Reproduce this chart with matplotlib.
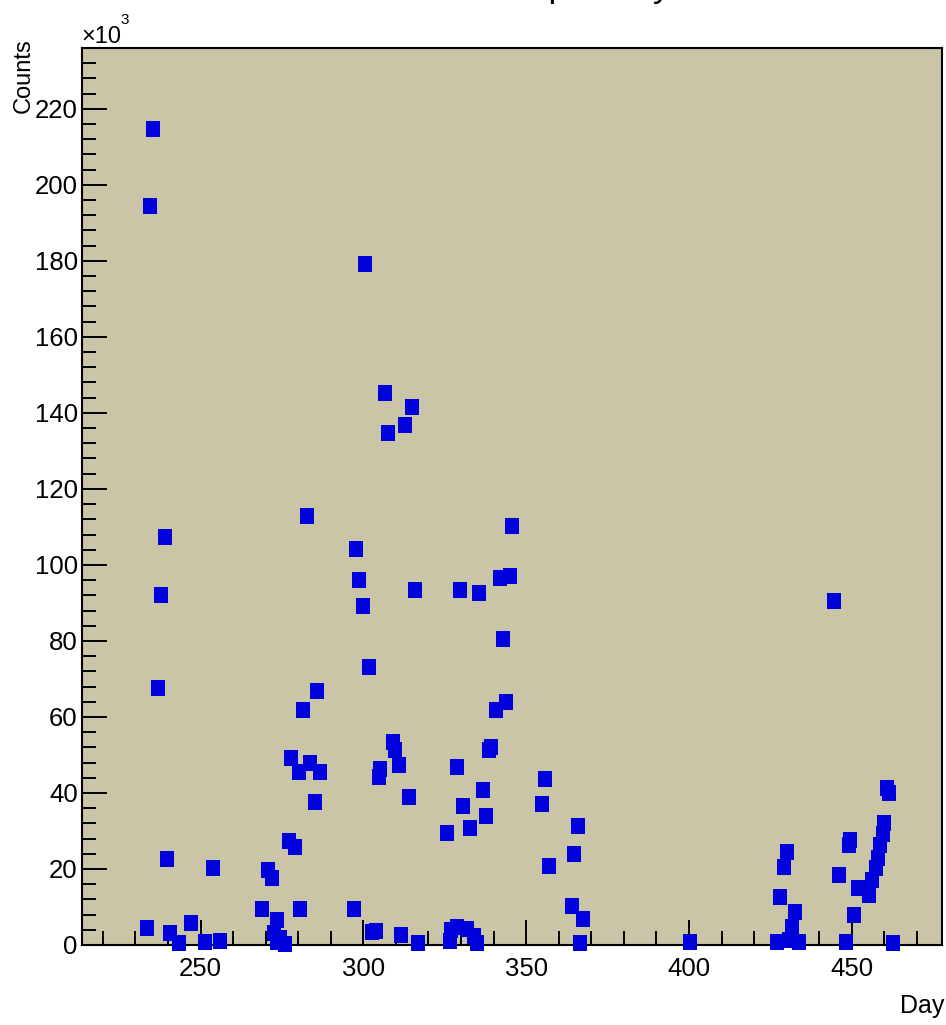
import matplotlib
matplotlib.use("Agg")
import matplotlib.pyplot as plt
from matplotlib.ticker import MultipleLocator
import numpy as np

# day number and counts (in thousands) per day
days = [234.5, 235.4, 233.7, 239.0, 237.8, 237.0, 239.8, 240.7, 243.5, 247.0,
        251.3, 253.8, 256.0, 268.8, 270.8, 271.9, 273.6, 272.6, 274.4, 273.4,
        276.0, 277.3, 279.0, 277.9, 280.2, 283.5, 286.7, 285.1, 281.6, 285.9,
        282.6, 280.6, 297.0, 297.8, 298.8, 299.8, 300.5, 301.7, 302.6, 303.8,
        304.7, 305.2, 306.8, 307.7, 309.2, 309.8, 310.8, 311.5, 312.8, 313.9,
        314.9, 315.9, 316.8, 325.6, 326.5, 326.9, 328.7, 328.7, 329.7, 330.7,
        331.8, 332.8, 333.9, 334.9, 335.6, 336.6, 337.7, 338.6, 339.1, 340.6,
        342.0, 342.9, 343.9, 345.1, 345.8, 354.9, 355.7, 356.9, 364.1, 364.8,
        365.8, 366.6, 367.6, 400.2, 427.1, 427.9, 429.3, 430.0, 430.7, 431.7,
        432.7, 433.8, 444.5, 446.0, 448.1, 449.2, 449.6, 450.8, 452.0, 455.2,
        456.3, 457.3, 458.0, 458.8, 459.6, 460.0, 460.8, 461.3, 462.8]
counts_k = [194.5, 214.7, 4.6, 107.3, 92.2, 67.6, 22.6, 3.1, 0.6, 5.9,
            0.7, 20.2, 1.1, 9.6, 19.7, 17.5, 6.6, 3.1, 1.8, 0.9,
            0.3, 27.4, 25.8, 49.1, 45.6, 48.0, 45.6, 37.7, 61.9, 66.8,
            112.8, 9.6, 9.6, 104.2, 96.0, 89.1, 179.2, 73.1, 3.5, 3.6,
            44.2, 46.3, 145.3, 134.7, 53.3, 51.2, 47.3, 2.6, 136.8, 38.9,
            141.5, 93.5, 0.6, 29.4, 1.0, 3.9, 4.8, 46.9, 93.5, 36.7,
            4.2, 30.9, 2.3, 0.6, 92.5, 40.7, 33.9, 51.2, 52.0, 61.8,
            96.5, 80.4, 63.9, 97.2, 110.3, 37.0, 43.8, 20.7, 10.3, 23.9,
            31.3, 0.4, 6.8, 0.9, 0.9, 12.7, 20.6, 24.5, 1.3, 4.8,
            8.8, 0.9, 90.5, 18.4, 0.9, 26.3, 27.5, 7.9, 15.1, 13.2,
            17.1, 20.2, 22.8, 26.3, 29.3, 32.1, 41.2, 40.0, 0.4]

x_ticks = [250, 300, 350, 400, 450]
y_ticks = [0, 20, 40, 60, 80, 100, 120, 140, 160, 180, 200, 220]

plt.rcParams['font.family'] = ['Liberation Sans', 'DejaVu Sans']

W, H = 946, 1025
fig = plt.figure(figsize=(W / 100, H / 100), dpi=100)
fig.patch.set_facecolor('white')

# frame in pixel coordinates
left, right, top, bottom = 82, 942, 48, 945
ax = fig.add_axes([left / W, 1 - bottom / H, (right - left) / W, (bottom - top) / H])
ax.set_facecolor('#cac5a7')

# slightly tall square marker
box = [(-0.42, -0.5), (0.42, -0.5), (0.42, 0.5), (-0.42, 0.5), (-0.42, -0.5)]
ax.plot(days, counts_k, linestyle='none', marker=box, markersize=11.5,
        color='#0000dd', markeredgewidth=0, clip_on=False, zorder=5)

ax.set_xlim(213.6, 477.7)
ax.set_ylim(0, 236)

ax.xaxis.set_minor_locator(MultipleLocator(10))
ax.yaxis.set_minor_locator(MultipleLocator(4))
ax.set_xticks(x_ticks)
ax.set_yticks(y_ticks)
ax.set_xticklabels([str(v) for v in x_ticks])
ax.set_yticklabels([str(v) for v in y_ticks])

ax.tick_params(axis='both', which='both', direction='in', top=False, right=False,
               labelsize=18.5, width=1.4)
ax.tick_params(axis='both', which='major', length=18)
ax.tick_params(axis='both', which='minor', length=10)
ax.tick_params(axis='x', which='major', pad=9)
ax.tick_params(axis='y', which='major', pad=3)

for s in ax.spines.values():
    s.set_linewidth(1.5)
    s.set_color('black')

# axis titles placed at the ends of the axes
fig.text(944 / W, 1 - 1018 / H, 'Day', ha='right', va='bottom', fontsize=18)
fig.text(13 / W, 1 - 38 / H, 'Counts', ha='left', va='top', rotation=90,
         fontsize=17)

# exponent marker for the y axis
fig.text(81 / W, 1 - 43 / H, '×10', ha='left', va='baseline', fontsize=17)
fig.text(120 / W, 1 - 24 / H, '3', ha='left', va='baseline', fontsize=11)

# plot title, sitting above the top edge so only descenders fall inside
fig.text(550 / W, 1 + 3 / H, 'Counts per Day', ha='center', va='baseline',
         fontsize=25)

fig.savefig('out.png', dpi=100)
